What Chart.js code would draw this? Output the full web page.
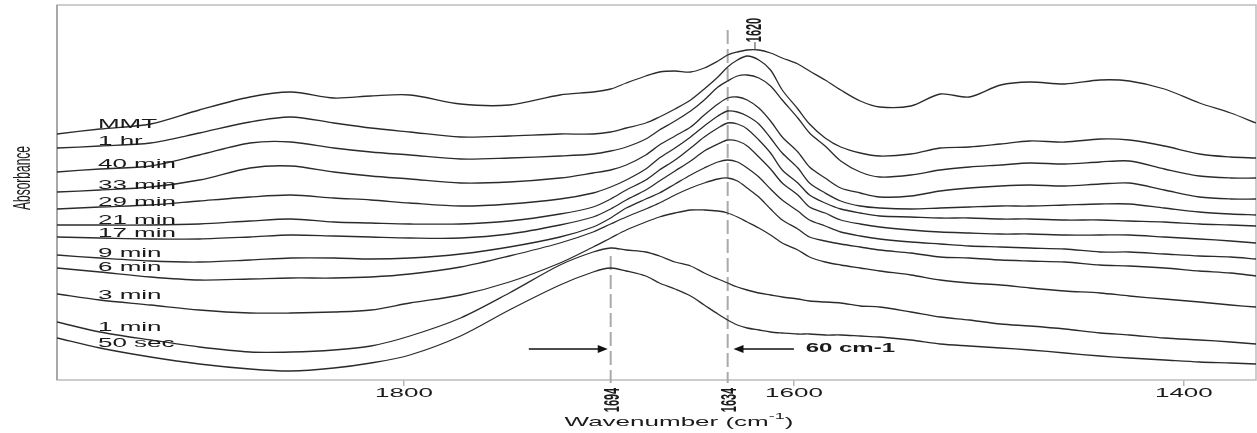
<!DOCTYPE html>
<html>
<head>
<meta charset="utf-8">
<script src="https://cdn.jsdelivr.net/npm/chart.js@4.4.1/dist/chart.umd.min.js"></script>
<style>
  html, body { margin: 0; padding: 0; background: #fff; }
  #wrap { width: 1257px; height: 433px; position: relative; }
</style>
</head>
<body>
<div id="wrap"><canvas id="chartCanvas"></canvas></div>
<script>
// wavenumber grid (cm-1) the spectra were read at
const wavenumbers = [1978, 1956, 1930, 1905, 1879, 1858, 1836, 1817, 1797, 1771, 1746, 1720, 1703, 1694, 1686,
    1676, 1669, 1661, 1653, 1646, 1639, 1634, 1629, 1624, 1618, 1612, 1606, 1598, 1592, 1584, 1576, 1566, 1556,
    1540, 1525, 1510, 1494, 1479, 1461, 1443, 1428, 1410, 1392, 1376, 1363];

// absorbance, stacked (arbitrary units)
const mmt = [246, 251, 256, 270, 283, 288, 282, 284, 285, 276, 275, 285, 288, 291, 297, 304, 308, 309, 308, 312, 319, 325, 328,
    330, 330, 327, 322, 316, 309, 300, 290, 279, 273, 274, 286, 283, 295, 298, 296, 300, 299, 291, 277, 267, 257];
const oneHr = [232, 234, 237, 247, 258, 263, 257, 252, 248, 243, 244, 246, 246, 248, 252, 257, 263, 271, 280, 291, 303, 313, 320,
    324, 320, 310, 290, 271, 256, 242, 233, 227, 224, 226, 232, 233, 236, 239, 238, 241, 240, 234, 226, 223, 222];
const min40 = [208, 211, 214, 225, 237, 238, 232, 228, 225, 221, 222, 224, 226, 229, 233, 241, 250, 259, 269, 280, 293, 299, 304,
    305, 302, 294, 280, 262, 247, 234, 219, 208, 203, 205, 210, 213, 215, 217, 216, 218, 219, 211, 204, 202, 202];
const min33 = [188, 190, 193, 200, 212, 214, 208, 204, 201, 197, 198, 202, 207, 210, 215, 225, 235, 244, 253, 265, 276, 282, 283,
    280, 272, 259, 243, 228, 213, 202, 192, 187, 183, 184, 189, 192, 194, 195, 194, 196, 197, 190, 183, 181, 181];
const min29 = [171, 173, 175, 179, 183, 185, 182, 180, 177, 174, 176, 181, 187, 193, 200, 211, 222, 232, 243, 254, 264, 269, 268,
    264, 256, 242, 227, 212, 197, 187, 179, 174, 172, 171, 172, 173, 174, 174, 175, 176, 176, 172, 168, 166, 165];
const min21 = [155, 155, 155, 156, 159, 161, 158, 157, 156, 156, 159, 166, 173, 181, 190, 200, 210, 220, 232, 243, 252, 257, 256,
    251, 240, 227, 210, 197, 185, 177, 171, 167, 164, 163, 162, 162, 161, 161, 160, 160, 159, 158, 156, 155, 154];
const min17 = [143, 142, 141, 141, 143, 145, 144, 143, 142, 142, 146, 155, 163, 171, 180, 190, 199, 209, 219, 229, 236, 240, 239,
    234, 223, 211, 197, 185, 173, 167, 160, 156, 153, 150, 148, 147, 146, 146, 145, 145, 145, 143, 141, 139, 137];
const min9 = [125, 122, 119, 118, 120, 122, 122, 121, 122, 126, 133, 143, 153, 162, 172, 181, 187, 196, 205, 212, 218, 220, 218,
    212, 203, 191, 180, 169, 160, 154, 148, 144, 141, 138, 136, 134, 133, 132, 131, 128, 128, 126, 124, 123, 121];
const min6 = [112, 108, 103, 100, 101, 102, 102, 103, 106, 113, 124, 137, 148, 156, 163, 171, 177, 185, 192, 197, 201, 202, 199,
    192, 183, 171, 160, 151, 143, 139, 136, 133, 130, 127, 123, 122, 120, 119, 118, 115, 114, 112, 109, 107, 104];
const min3 = [86, 80, 75, 70, 67, 67, 68, 70, 77, 85, 98, 117, 133, 142, 150, 158, 163, 167, 170, 170, 169, 167, 163,
    158, 152, 145, 137, 130, 123, 118, 115, 112, 109, 105, 100, 97, 95, 92, 89, 87, 84, 81, 78, 75, 73];
const min1 = [58, 48, 40, 33, 28, 28, 30, 34, 44, 62, 87, 115, 128, 132, 130, 128, 124, 118, 114, 107, 101, 97, 93,
    90, 87, 85, 83, 81, 79, 78, 77, 74, 73, 68, 63, 60, 56, 54, 51, 47, 45, 42, 40, 38, 36];
const sec50 = [42, 32, 23, 16, 11, 9, 12, 17, 25, 44, 70, 95, 108, 112, 109, 104, 97, 91, 84, 75, 66, 60, 55,
    52, 50, 48, 47, 46, 46, 45, 45, 44, 43, 40, 36, 34, 32, 30, 27, 24, 22, 20, 18, 17, 16];

const seriesNames = ['MMT', '1 hr', '40 min', '33 min', '29 min', '21 min', '17 min', '9 min', '6 min', '3 min', '1 min', '50 sec'];
const seriesValues = [mmt, oneHr, min40, min33, min29, min21, min17, min9, min6, min3, min1, sec50];

const xTicks = [1800, 1600, 1400];
const shiftBands = [1694, 1634];   // dashed reference lines
const peakBand = 1620;             // MMT maximum
const shiftText = '60 cm-1';

const FONT = '"Liberation Sans", Arial, Helvetica, sans-serif';
const SX = 2.0;   // the source figure is stretched sideways

function wideText(ctx, text, x, y, size, bold, align, rotated) {
    ctx.save();
    ctx.translate(x, y);
    ctx.scale(SX, 1);
    if (rotated) ctx.rotate(-Math.PI / 2);
    ctx.font = (bold ? 'bold ' : '') + size + 'px ' + FONT;
    ctx.fillStyle = '#1a1a1a';
    ctx.textAlign = align;
    ctx.textBaseline = 'middle';
    ctx.fillText(text, 0, 0);
    ctx.restore();
}

function arrow(ctx, x0, x1, y) {
    const dir = Math.sign(x1 - x0);
    ctx.save();
    ctx.strokeStyle = '#111';
    ctx.fillStyle = '#111';
    ctx.lineWidth = 1.3;
    ctx.beginPath();
    ctx.moveTo(x0, y);
    ctx.lineTo(x1 - dir * 8, y);
    ctx.stroke();
    ctx.beginPath();
    ctx.moveTo(x1, y);
    ctx.lineTo(x1 - dir * 10, y - 4);
    ctx.lineTo(x1 - dir * 10, y + 4);
    ctx.closePath();
    ctx.fill();
    ctx.restore();
}

const decorations = {
    id: 'decorations',
    beforeDatasetsDraw(chart) {
        const { ctx, chartArea: a, scales: { x, y } } = chart;
        ctx.save();
        // frame
        ctx.strokeStyle = '#bdbdbd';
        ctx.lineWidth = 1.5;
        ctx.strokeRect(a.left, a.top, a.right - a.left, a.bottom - a.top);
        ctx.strokeStyle = '#a8a8a8';
        ctx.lineWidth = 2;
        ctx.beginPath();
        ctx.moveTo(a.left, a.top);
        ctx.lineTo(a.left, a.bottom);
        ctx.stroke();
        // dashed band markers
        ctx.strokeStyle = '#aaaaaa';
        ctx.lineWidth = 2;
        ctx.setLineDash([14, 5]);
        const tops = [y.getPixelForValue(124), y.getPixelForValue(350)];
        shiftBands.forEach((b, i) => {
            const px = x.getPixelForValue(b);
            ctx.beginPath();
            ctx.moveTo(px, tops[i]);
            ctx.lineTo(px, a.bottom + 3);
            ctx.stroke();
        });
        ctx.restore();
    },
    afterDraw(chart) {
        const { ctx, chartArea: a, scales: { x, y } } = chart;

        // x tick labels
        xTicks.forEach(t => wideText(ctx, String(t), x.getPixelForValue(t), a.bottom + 13, 13, false, 'center', false));

        // band labels under the axis
        shiftBands.forEach(b => wideText(ctx, String(b), x.getPixelForValue(b) + 2, a.bottom + 20, 11, true, 'center', true));

        // 1620 label with its tick
        const pk = x.getPixelForValue(peakBand);
        ctx.save();
        ctx.strokeStyle = '#444';
        ctx.lineWidth = 1;
        ctx.beginPath();
        ctx.moveTo(pk, 42);
        ctx.lineTo(pk, 50);
        ctx.stroke();
        ctx.restore();
        wideText(ctx, String(peakBand), pk, 30, 11, true, 'center', true);

        // arrows and shift text
        const ay = y.getPixelForValue(31);
        arrow(ctx, x.getPixelForValue(1736), x.getPixelForValue(1695.5), ay);
        arrow(ctx, x.getPixelForValue(1600), x.getPixelForValue(1631), ay);
        wideText(ctx, shiftText, x.getPixelForValue(1594), ay, 12, true, 'left', false);

        // curve labels, sitting on each trace near the left edge
        seriesNames.forEach((name, i) => {
            const py = y.getPixelForValue(seriesValues[i][1]) - 5;
            wideText(ctx, name, x.getPixelForValue(1957), py, 13, false, 'left', false);
        });

        // axis titles
        wideText(ctx, 'Absorbance', 23, 178, 12, false, 'center', true);
        ctx.save();
        ctx.font = '13px ' + FONT;
        const w1 = ctx.measureText('Wavenumber (cm').width;
        const w3 = ctx.measureText(')').width;
        ctx.font = '9px ' + FONT;
        const w2 = ctx.measureText('-1').width;
        ctx.restore();
        const total = (w1 + w2 + w3) * SX;
        let tx = 679 - total / 2;
        const ty = a.bottom + 42;
        wideText(ctx, 'Wavenumber (cm', tx, ty, 13, false, 'left', false);
        tx += w1 * SX;
        wideText(ctx, '-1', tx, ty - 5, 9, false, 'left', false);
        tx += w2 * SX;
        wideText(ctx, ')', tx, ty, 13, false, 'left', false);
    }
};

const datasets = seriesNames.map((name, i) => ({
    label: name,
    data: wavenumbers.map((w, j) => ({ x: w, y: seriesValues[i][j] })),
    borderColor: '#2b2b2b',
    borderWidth: 1.3,
    pointRadius: 0,
    tension: 0.3,
    fill: false
}));

const ctx = document.getElementById('chartCanvas').getContext('2d');
new Chart(ctx, {
    type: 'line',
    data: { datasets: datasets },
    options: {
        responsive: true,
        maintainAspectRatio: false,
        animation: false,
        layout: { padding: { left: 57, right: 1, top: 5, bottom: 47 } },
        plugins: {
            legend: { display: false },
            tooltip: { enabled: false }
        },
        scales: {
            x: {
                type: 'linear',
                reverse: true,
                min: 1363,
                max: 1978,
                afterBuildTicks: axis => { axis.ticks = xTicks.map(v => ({ value: v })); },
                ticks: { display: false },
                border: { display: false },
                grid: { drawOnChartArea: false, drawTicks: true, tickLength: 6, color: '#b5b5b5', lineWidth: 1.5 }
            },
            y: {
                display: false,
                min: 0,
                max: 375
            }
        }
    },
    plugins: [decorations]
});
</script>
</body>
</html>
